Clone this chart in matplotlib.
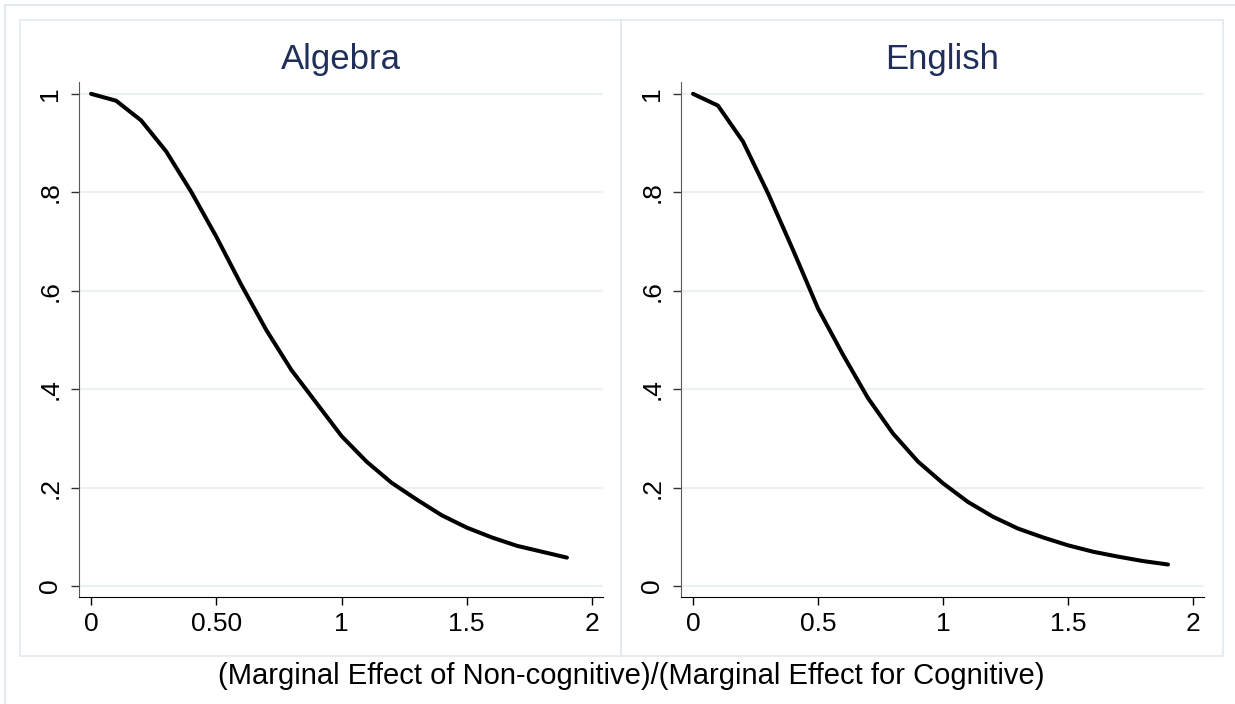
import numpy as np
import matplotlib
matplotlib.use('Agg')
from matplotlib import pyplot as plt
from matplotlib.patches import Rectangle

# ratio of marginal effects (x) and the two curves
ratio = [0.0, 0.1, 0.2, 0.3, 0.4, 0.5, 0.6, 0.7, 0.8, 0.9,
         1.0, 1.1, 1.2, 1.3, 1.4, 1.5, 1.6, 1.7, 1.8, 1.9]
algebra = [1.000, 0.986, 0.946, 0.883, 0.801, 0.710, 0.612, 0.520, 0.439, 0.372,
           0.305, 0.253, 0.210, 0.176, 0.144, 0.119, 0.099, 0.082, 0.070, 0.058]
english = [1.000, 0.976, 0.903, 0.798, 0.683, 0.564, 0.470, 0.382, 0.310, 0.253,
           0.209, 0.171, 0.141, 0.117, 0.099, 0.083, 0.070, 0.060, 0.051, 0.044]

panel_titles = ['Algebra', 'English']
x_ticks = [0, 0.5, 1, 1.5, 2]
x_ticklabels = [['0', '0.50', '1', '1.5', '2'], ['0', '0.5', '1', '1.5', '2']]
y_ticks = [0, 0.2, 0.4, 0.6, 0.8, 1]
y_ticklabels = ['0', '.2', '.4', '.6', '.8', '1']
xlabel = '(Marginal Effect of Non-cognitive)/(Marginal Effect for Cognitive)'

plt.rcParams['font.family'] = ['Liberation Sans', 'DejaVu Sans']

W, H = 1235, 704
fig = plt.figure(figsize=(W / 100, H / 100), dpi=100)
fig.patch.set_facecolor('white')

frame_col = '#e2eaed'
grid_col = '#eaf1f3'
title_col = '#1f2f5a'


def px_rect(x0, y0, x1, y1):
    # pixel box (top-left origin) -> figure fraction
    return [x0 / W, 1 - y1 / H, (x1 - x0) / W, (y1 - y0) / H]


# outer frame and the two panel frames
fig.patches.append(Rectangle((5 / W, -0.1), 1.2, 1 - 5 / H + 0.1, transform=fig.transFigure,
                             fill=False, edgecolor=frame_col, lw=1.5))
for x0, x1 in [(20, 621), (621, 1223)]:
    fig.patches.append(Rectangle((x0 / W, 1 - 656 / H), (x1 - x0) / W, (656 - 20) / H,
                                 transform=fig.transFigure, fill=False,
                                 edgecolor=frame_col, lw=1.2))

series = [algebra, english]
axes_px = [(79, 82, 603, 597), (681, 82, 1204, 597)]
title_x = [341, 942]
for i in range(2):
    ax = fig.add_axes(px_rect(*axes_px[i]))
    ax.plot(ratio, series[i], color='black', lw=2.9, solid_capstyle='round')
    ax.set_xlim(-0.048, 2.044)
    ax.set_ylim(-0.022, 1.024)
    ax.set_xticks(x_ticks)
    ax.set_xticklabels(x_ticklabels[i], fontsize=19)
    ax.set_yticks(y_ticks)
    ax.set_yticklabels(y_ticklabels, fontsize=19, rotation=90, va='center')
    ax.grid(axis='y', color=grid_col, lw=1.5)
    ax.set_axisbelow(True)
    for s in ['top', 'right']:
        ax.spines[s].set_visible(False)
    ax.spines['left'].set_color('#5a5a5a')
    ax.spines['bottom'].set_color('black')
    ax.tick_params(axis='x', length=6, width=1, pad=5)
    ax.tick_params(axis='y', length=6, width=1, pad=6, color='#333333')
    fig.text(title_x[i] / W, 1 - 60 / H, panel_titles[i], ha='center', va='center',
             fontsize=25, color=title_col)

fig.text(631 / W, 1 - 676 / H, xlabel, ha='center', va='center', fontsize=21)

fig.savefig('out.png', dpi=100)
